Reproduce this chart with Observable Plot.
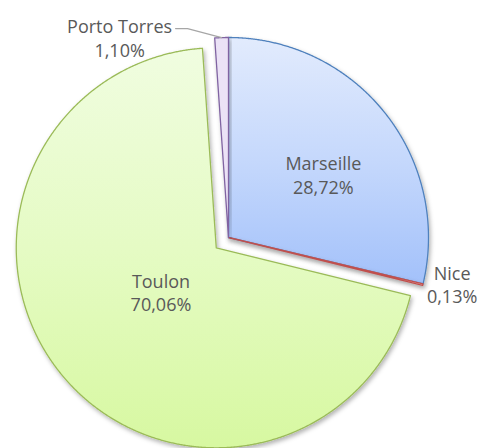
<!DOCTYPE html>
<html><head><meta charset="utf-8">
<script src="https://cdn.jsdelivr.net/npm/d3@7"></script>
<script src="https://cdn.jsdelivr.net/npm/@observablehq/plot@0.6"></script>
<style>body{margin:0;background:#fff} svg{display:block}</style>
</head><body><div id="chart"></div>
<script>
const ports = ["Marseille", "Nice", "Toulon", "Porto Torres"];
const shares = [28.72, 0.13, 70.06, 1.10];
const shareLabels = ["28,72%", "0,13%", "70,06%", "1,10%"];
const fills = ["url(#gM)", "#f2dcdb", "url(#gT)", "#ebe2f6"];
const strokes = ["#4f81bd", "#c0504d", "#9bbb59", "#8064a2"];

const W = 479, H = 448, R = 200, CX = 228, CY = 237;
const explode = [0, 0, 16 / R, 0];
// label layout: radius factor (from slice centre) and pixel nudge
const labelRF = [0.56, 1.14, 0.335, 1.0];
const labelNudge = [[7, 6.5], [2, -7], [-4, 1], [-102, 0]];

const arcs = d3.pie().sort(null).value(d => d)(shares);
const slices = arcs.map((a, i) => {
  const mid = (a.startAngle + a.endAngle) / 2;
  const ox = explode[i] * Math.sin(mid), oy = explode[i] * Math.cos(mid);
  const pts = [{x: ox, y: oy}];
  const n = Math.max(2, Math.ceil((a.endAngle - a.startAngle) / 0.005));
  for (let k = 0; k <= n; k++) {
    const t = a.startAngle + (a.endAngle - a.startAngle) * k / n;
    pts.push({x: ox + Math.sin(t), y: oy + Math.cos(t)});
  }
  pts.push({x: ox, y: oy});
  const lx = ox + labelRF[i] * Math.sin(mid) + labelNudge[i][0] / R;
  const ly = oy + labelRF[i] * Math.cos(mid) - labelNudge[i][1] / R;
  return {name: ports[i], pts, mid, label: {x: lx, y: ly, text: ports[i] + "\n" + shareLabels[i]}};
});

// Porto Torres leader line
const pt = slices[3];
const ax = Math.sin(pt.mid), ay = Math.cos(pt.mid);
const leader = [
  {x: ax, y: ay},
  {x: ax - 34 / R, y: ay + 9 / R},
  {x: ax - 46 / R, y: ay + 9 / R}
];

const marks = [];
for (const i of [0, 1, 3, 2]) {
  marks.push(Plot.line(slices[i].pts, {
    x: "x", y: "y", fill: fills[i], stroke: strokes[i],
    strokeWidth: 1.3, strokeLinejoin: "round"
  }));
}
marks.push(Plot.line(leader, {x: "x", y: "y", stroke: "#a6a6a6", strokeWidth: 1.2}));
marks.push(Plot.text(slices.map(s => s.label), {
  x: "x", y: "y", text: "text", fill: "#595959", fontSize: 18, lineHeight: 1.3,
  textAnchor: "middle", lineAnchor: "middle"
}));

const chart = Plot.plot({
  width: W, height: H,
  marginTop: 0, marginRight: 0, marginBottom: 0, marginLeft: 0,
  x: {domain: [-CX / R, (W - CX) / R], range: [0, W], axis: null},
  y: {domain: [-(H - CY) / R, CY / R], range: [H, 0], axis: null},
  style: {fontFamily: "'Open Sans', Lato, sans-serif", background: "#fff"},
  marks
});

const ns = "http://www.w3.org/2000/svg";
const defs = document.createElementNS(ns, "defs");
defs.innerHTML = `
<linearGradient id="gM" x1="0" y1="0" x2="0" y2="1">
  <stop offset="0" stop-color="#e2ebfd"/><stop offset="0.5" stop-color="#c5d8fc"/><stop offset="1" stop-color="#a3c1fa"/>
</linearGradient>
<linearGradient id="gT" x1="0" y1="0" x2="0" y2="1">
  <stop offset="0" stop-color="#f0fde0"/><stop offset="0.5" stop-color="#e5fbc4"/><stop offset="1" stop-color="#d7f8a1"/>
</linearGradient>
<filter id="sh" x="-10%" y="-10%" width="130%" height="130%">
  <feDropShadow dx="1.5" dy="2.5" stdDeviation="2" flood-color="#000" flood-opacity="0.3"/>
</filter>`;
chart.insertBefore(defs, chart.firstChild);
const lineGroups = chart.querySelectorAll('g[aria-label="line"]');
lineGroups.forEach((g, k) => { if (k < 4) g.setAttribute("filter", "url(#sh)"); });
document.getElementById("chart").appendChild(chart);
</script>
</body></html>
